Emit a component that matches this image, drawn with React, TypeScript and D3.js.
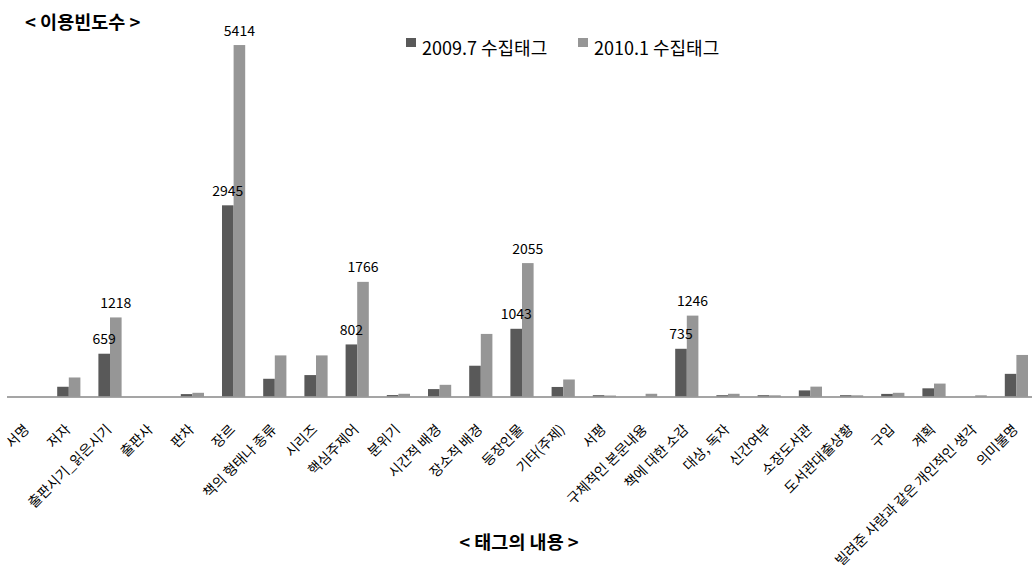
import React from "react";
import * as d3 from "d3";

const categories: string[] = [
  "서명", "저자", "출판시기_읽은시기", "출판사", "판차", "장르", "책의 형태나 종류",
  "시리즈", "핵심주제어", "분위기", "시간적 배경", "장소적 배경", "등장인물",
  "기타(주제)", "서평", "구체적인 본문내용", "책에 대한 소감", "대상, 독자",
  "신간여부", "소장도서관", "도서관대출상황", "구입", "계획",
  "빌려준 사람과 같은 개인적인 생각", "의미불명",
];

const series2009: number[] = [
  0, 150, 659, 0, 37, 2945, 273, 330, 802, 22, 114, 474, 1043,
  147, 20, 0, 735, 20, 20, 94, 20, 40, 126, 0, 349,
];

const series2010: number[] = [
  0, 293, 1218, 0, 57, 5414, 633, 633, 1766, 42, 180, 964, 2055,
  262, 15, 42, 1246, 42, 18, 152, 18, 57, 199, 18, 640,
];

const seriesNames: string[] = ["2009.7 수집태그", "2010.1 수집태그"];
const labelled2009: number[] = [659, 2945, 802, 1043, 735];
const labelled2010: number[] = [1218, 5414, 1766, 2055, 1246];

const W = 1032;
const H = 571;
const FONT = "'Noto Sans CJK KR', 'Noto Sans', sans-serif";
const DARK = "#595959";
const LIGHT = "#969696";

export default function App() {
  const x = d3.scaleBand<string>().domain(categories).range([7, 1037]).padding(0);
  const y = d3.scaleLinear().domain([0, 6000]).range([396.5, 7]);
  const barW = 11.6;
  const colors = [DARK, LIGHT];
  const data = [series2009, series2010];
  const labelled = [labelled2009, labelled2010];

  return (
    <svg
      width={W}
      height={H}
      style={{ position: "absolute", left: 0, top: 0, background: "#fff" }}
      fontFamily={FONT}
    >
      {/* y-axis title */}
      <text x={25} y={29} fontSize={18.5} fontWeight="bold" fill="#000">
        {"< 이용빈도수 >"}
      </text>

      {/* legend */}
      {seriesNames.map((name, i) => {
        const lx = i === 0 ? 406 : 578;
        return (
          <g key={name}>
            <rect x={lx} y={38} width={10} height={9} fill={colors[i]} />
            <text x={lx + 16} y={55} fontSize={18} fill="#000">
              {name}
            </text>
          </g>
        );
      })}

      {/* bars */}
      {data.map((vals, s) =>
        vals.map((v, i) => {
          const cx = (x(categories[i]) as number) + x.bandwidth() / 2;
          const bx = s === 0 ? cx - barW : cx;
          return (
            <rect
              key={`${s}-${i}`}
              x={bx}
              y={y(v)}
              width={barW}
              height={y(0) - y(v)}
              fill={colors[s]}
            />
          );
        })
      )}

      {/* value labels */}
      {data.map((vals, s) =>
        vals.map((v, i) => {
          if (!labelled[s].includes(v)) return null;
          const cx = (x(categories[i]) as number) + x.bandwidth() / 2;
          const lx = s === 0 ? cx - barW / 2 : cx + barW / 2;
          return (
            <text
              key={`l-${s}-${i}`}
              x={lx}
              y={y(v) - 9.5}
              fontSize={14}
              textAnchor="middle"
              fill="#000"
            >
              {v}
            </text>
          );
        })
      )}

      {/* baseline */}
      <line x1={7} x2={W} y1={y(0) + 0.5} y2={y(0) + 0.5} stroke="#878787" strokeWidth={1.5} />

      {/* category labels */}
      {categories.map((c) => {
        const cx = (x(c) as number) + x.bandwidth() / 2;
        const ax = cx - 1;
        const ay = 427;
        return (
          <text
            key={c}
            x={ax}
            y={ay}
            fontSize={14}
            textAnchor="end"
            dy="0.35em"
            transform={`rotate(-45 ${ax} ${ay})`}
            fill="#000"
          >
            {c}
          </text>
        );
      })}

      {/* x-axis title */}
      <text x={519} y={549} fontSize={18.5} fontWeight="bold" textAnchor="middle" fill="#000">
        {"< 태그의 내용 >"}
      </text>
    </svg>
  );
}
